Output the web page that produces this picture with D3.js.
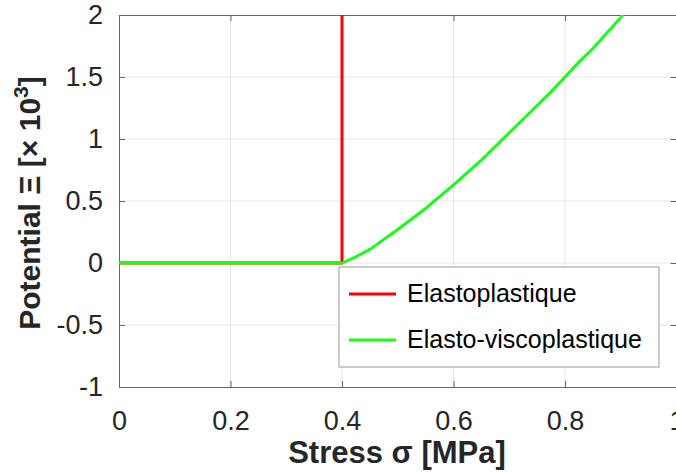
<!DOCTYPE html>
<html>
<head>
<meta charset="utf-8">
<script src="https://cdn.jsdelivr.net/npm/d3@7"></script>
<style>
  body { margin: 0; background: #fff; overflow: hidden; }
  svg text { font-family: "Liberation Sans", Arial, sans-serif; }
</style>
</head>
<body>
<div id="chart"></div>
<script>
// Axis ticks
const xTicks = [0, 0.2, 0.4, 0.6, 0.8, 1];
const yTicks = [-1, -0.5, 0, 0.5, 1, 1.5, 2];

// Series (stress in MPa, potential in 10^3)
const plasticStress = [0, 0.4, 0.4];
const plasticPotential = [0, 0, 2];
const viscoStress = [0, 0.4, 0.425, 0.45, 0.5, 0.55, 0.6, 0.65, 0.7, 0.75, 0.775, 0.8, 0.825, 0.85, 0.875, 0.9, 0.925];
const viscoPotential = [0, 0, 0.05, 0.11, 0.27, 0.44, 0.63, 0.83, 1.05, 1.27, 1.38, 1.5, 1.62, 1.73, 1.855, 1.98, 2.11];

const seriesNames = ["Elastoplastique", "Elasto-viscoplastique"];
const seriesColours = ["#ff0000", "#1aff1a"];

const W = 676, H = 472;
const plot = { left: 119, right: 676.5, top: 15, bottom: 387 };

const x = d3.scaleLinear().domain([0, 1]).range([plot.left, plot.right]);
const y = d3.scaleLinear().domain([-1, 2]).range([plot.bottom, plot.top]);

const svg = d3.select("#chart")
    .append("svg")
        .attr("width", W)
        .attr("height", H);

svg.append("defs").append("clipPath")
    .attr("id", "clip")
    .append("rect")
        .attr("x", plot.left)
        .attr("y", plot.top)
        .attr("width", plot.right - plot.left)
        .attr("height", plot.bottom - plot.top);

// Gridlines
const grid = svg.append("g").attr("stroke", "#e5e5e5").attr("stroke-width", 1);
grid.selectAll(".vgrid")
    .data(xTicks.slice(1, -1))
    .join("line")
        .attr("x1", d => x(d)).attr("x2", d => x(d))
        .attr("y1", plot.top).attr("y2", plot.bottom);
grid.selectAll(".hgrid")
    .data(yTicks.slice(1, -1))
    .join("line")
        .attr("x1", plot.left).attr("x2", plot.right)
        .attr("y1", d => y(d)).attr("y2", d => y(d));

// Axes (ticks pointing inwards, box on)
const tickLen = 6;
const axisColour = "#666";
const fmt = d => String(d);

svg.append("g")
    .attr("transform", `translate(0,${plot.bottom})`)
    .call(d3.axisBottom(x).tickValues(xTicks).tickSize(-tickLen).tickPadding(24).tickFormat(fmt))
    .call(g => g.select(".domain").attr("stroke", axisColour))
    .call(g => g.selectAll(".tick line").attr("stroke", axisColour))
    .call(g => g.selectAll(".tick text").attr("font-size", 27).attr("fill", "#262626").attr("dy", "0.71em"));

svg.append("g")
    .attr("transform", `translate(${plot.left},0)`)
    .call(d3.axisLeft(y).tickValues(yTicks).tickSize(-tickLen).tickPadding(16).tickFormat(fmt))
    .call(g => g.select(".domain").attr("stroke", axisColour))
    .call(g => g.selectAll(".tick line").attr("stroke", axisColour))
    .call(g => g.selectAll(".tick text").attr("font-size", 27).attr("fill", "#262626"));

svg.append("g")
    .attr("transform", `translate(0,${plot.top})`)
    .call(d3.axisTop(x).tickValues(xTicks).tickSize(-tickLen).tickFormat(""))
    .call(g => g.select(".domain").attr("stroke", axisColour))
    .call(g => g.selectAll(".tick line").attr("stroke", axisColour));

svg.append("g")
    .attr("transform", `translate(${plot.right},0)`)
    .call(d3.axisRight(y).tickValues(yTicks).tickSize(-tickLen).tickFormat(""))
    .call(g => g.select(".domain").attr("stroke", axisColour))
    .call(g => g.selectAll(".tick line").attr("stroke", axisColour));

// Lines
const line = d3.line()
    .x(d => x(d[0]))
    .y(d => y(d[1]));

const series = [
    d3.zip(plasticStress, plasticPotential),
    d3.zip(viscoStress, viscoPotential)
];

svg.append("g")
    .attr("clip-path", "url(#clip)")
    .selectAll("path")
    .data(series)
    .join("path")
        .attr("d", d => line(d))
        .attr("fill", "none")
        .attr("stroke", (d, i) => seriesColours[i])
        .attr("stroke-width", 3)
        .attr("stroke-linejoin", "round");

// Legend
const legend = svg.append("g").attr("transform", "translate(339,267)");
legend.append("rect")
    .attr("width", 320)
    .attr("height", 100)
    .attr("fill", "#fff")
    .attr("stroke", "#999")
    .attr("stroke-width", 1);
const items = legend.selectAll("g.item")
    .data(seriesNames)
    .join("g")
        .attr("class", "item")
        .attr("transform", (d, i) => `translate(0,${27 + i * 46})`);
items.append("line")
    .attr("x1", 10).attr("x2", 57)
    .attr("stroke", (d, i) => seriesColours[i])
    .attr("stroke-width", 3);
items.append("text")
    .attr("x", 68)
    .attr("y", 8)
    .attr("font-size", 25)
    .attr("fill", "#000")
    .text(d => d);

// Axis titles
svg.append("text")
    .attr("x", 397)
    .attr("y", 463)
    .attr("text-anchor", "middle")
    .attr("font-size", 31)
    .attr("font-weight", "bold")
    .attr("fill", "#262626")
    .text("Stress σ [MPa]");

const yTitle = svg.append("text")
    .attr("transform", "translate(40,203) rotate(-90)")
    .attr("text-anchor", "middle")
    .attr("font-size", 30)
    .attr("font-weight", "bold")
    .attr("fill", "#262626");
yTitle.append("tspan").text("Potential Ξ [× 10");
yTitle.append("tspan").attr("font-size", 21).attr("dy", -12).text("3");
yTitle.append("tspan").attr("dy", 12).text("]");
</script>
</body>
</html>
